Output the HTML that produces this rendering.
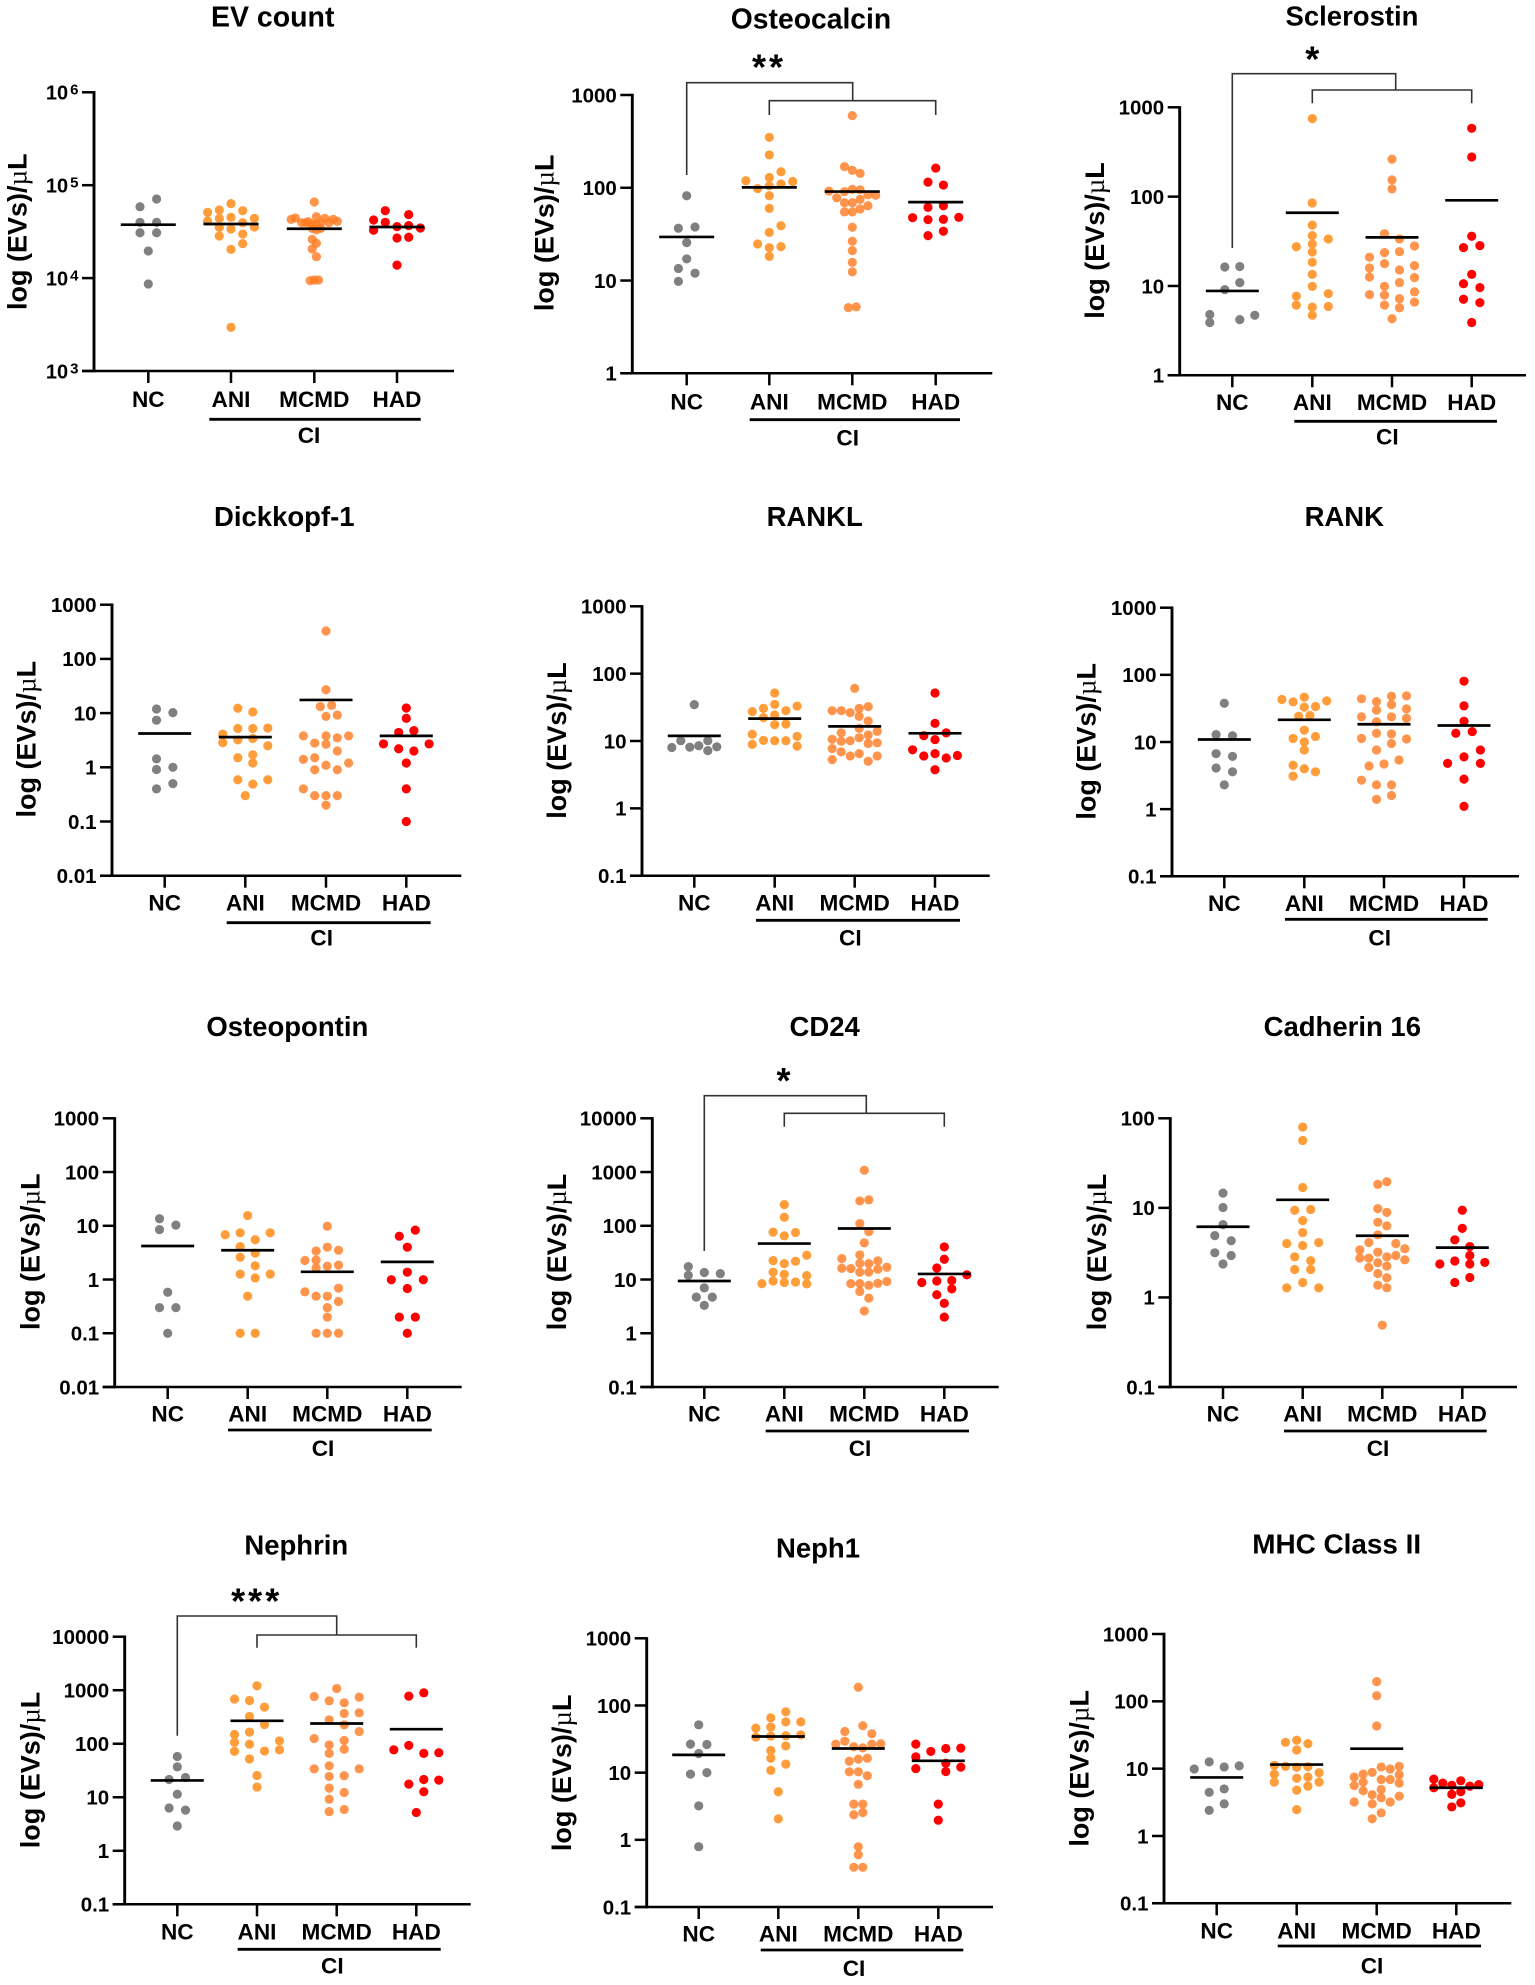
<!DOCTYPE html>
<html lang="en">
<head>
<meta charset="utf-8">
<title>EV marker panels</title>
<style>
html,body{margin:0;padding:0;background:#fff}
svg{display:block}
text{font-family:"Liberation Sans",Arial,sans-serif;font-weight:700;fill:#000}
</style>
</head>
<body>
<svg id="figure" width="1535" height="1985" viewBox="0 0 1535 1985" xmlns="http://www.w3.org/2000/svg">
<rect x="0" y="0" width="1535" height="1985" fill="#fff"></rect>
</svg>
<script>
// ---------- shared categories and tick arrays ----------
const categories = ['NC', 'ANI', 'MCMD', 'HAD'];
const groupName = 'CI';
const ticksEv = [1000, 10000, 100000, 1000000];
const ticksEvExponents = ['3', '4', '5', '6'];
const ticksThreeDec = [1, 10, 100, 1000];
const labelsThreeDec = ['1', '10', '100', '1000'];
const ticksFiveLow = [0.01, 0.1, 1, 10, 100, 1000];
const labelsFiveLow = ['0.01', '0.1', '1', '10', '100', '1000'];
const ticksFourLow = [0.1, 1, 10, 100, 1000];
const labelsFourLow = ['0.1', '1', '10', '100', '1000'];
const ticksFiveHigh = [0.1, 1, 10, 100, 1000, 10000];
const labelsFiveHigh = ['0.1', '1', '10', '100', '1000', '10000'];
const ticksCadherin = [0.1, 1, 10, 100];
const labelsCadherin = ['0.1', '1', '10', '100'];

// ---------- series values (NC, ANI, MCMD, HAD), swarm slots and means ----------
const evCountValues = [
 [71000,58700,39800,39800,30800,30800,19600,8640],
 [63300,54100,53200,51000,44000,45100,44000,41200,39500,35200,35500,33800,29800,28400,23500,20400,2950],
 [65900,45800,42900,44400,44000,42900,40800,39500,40500,39500,39500,38200,39500,38200,34300,34300,33000,26100,23700,20600,17000,9390,9540,9540],
 [53200,48200,42200,39800,35800,36700,32700,34600,27000,27500,13800]];
const evCountSlots = [
 [1,-1,-1,1,-1,1,0,0],
 [0,-1,1,-2,2,0,-1,-2,1,-1,2,0,1,-1,1,0,0],
 [0,.5,-5.5,-4.5,2.5,4.5,5.5,-3,-1.5,1.5,3.5,.5,-2,-.5,-.5,1.5,.5,-.5,.5,-.5,.5,-1,0,1],
 [-1,1,-2,-1,0,1,-2,2,0,1,0]];
const evCountMeans = [37600,38200,34000,35500];

const osteocalcinValues = [
 [82,36.6,37.8,25.6,17.1,13.5,12,9.8],
 [350,226,149,129,119,117,110,105,98,82,60,39,33,24.8,23.2,22.6,18.2],
 [600,169,154,143,96,95,92,91,78,84,83,75,69,69,64,59,55,55,37.5,26.5,21,15.7,12.4,5.1,5.2],
 [163,115,107,61.5,64,47.6,45.3,45.7,48,34,30.5]];
const osteocalcinSlots = [
 [0,-1,1,0,0,-1,1,-1],
 [0,0,1,0,-2,2,1,0,-1,0,0,1,0,-1,1,0,0],
 [0,-1,0,1,0,1,-3,-1,-2,2,3,1,-1,0,2,1,-1,0,0,0,0,0,0,-.5,.5],
 [0,-1,1,-1,1,-3,-1,1,3,1,-1]];
const osteocalcinMeans = [29.5,101,91,70];

const sclerostinValues = [
 [16.3,16.5,10.9,9.1,4.8,4.7,4.2,3.9],
 [747,85,48,36.6,33.6,29.5,27.5,24,18.4,13.5,9.9,8.2,7.7,6.1,5.9,5.8,4.7],
 [262,154,122,38.5,33.6,28,23.6,24.2,21,17.8,16.9,15.9,15.1,12.6,12.4,10.9,9.9,8.6,8,7.9,7.2,6.6,6.1,5.7,4.3],
 [582,278,36,26.9,28.3,13.5,10.6,9.6,7.1,6.5,3.9]];
const sclerostinSlots = [
 [-1,1,1,-1,-3,3,1,-3],
 [0,0,0,0,1,0,-1,0,0,0,0,1,-1,-1,1,0,0],
 [0,0,0,-1,1,3,-1,1,-3,-1,3,-3,1,-3,3,1,-1,3,-3,-1,1,3,-1,1,0],
 [0,0,0,-1,1,0,-1,1,-1,1,0]];
const sclerostinMeans = [8.8,66,35,91];

const dickkopfValues = [
 [11.9,10.2,7.4,1.43,1,.91,.5,.4],
 [12.3,10.5,5.2,5.2,5.3,4.1,3.4,3.2,2.85,2.5,1.7,1.5,1.2,.59,.59,.49,.3],
 [327,27,13.2,13.9,8.7,9.2,3.8,3.8,3.8,3.5,2.8,2.66,2,1.5,1.4,1.2,1.09,.9,.9,.4,.3,.3,.3,.2],
 [12.4,8,4.4,4.75,2.7,2.7,2.2,2,1.2,.4,.1]];
const dickkopfSlots = [
 [-1,1,-1,-1,1,-1,1,-1],
 [-1,1,-1,1,3,-3,1,-1,-3,3,1,-1,1,-1,3,1,0],
 [0,0,-.5,.5,0,1,-2,0,2,1,-1,0,1,-1,-2,2,0,-1,1,-2,-1,0,1,0],
 [0,0,-1,1,-3,3,-1,1,0,0,0]];
const dickkopfMeans = [4.2,3.6,17.5,3.8];

const ranklValues = [
 [34.7,10.1,10.1,8,8.1,8.5,7.2,8.2],
 [51.6,35,33,30.5,27.3,28.2,24.3,22.2,17.5,17.9,12.6,11.7,10.2,10.1,10.1,8.9,8.4],
 [60.5,32.4,30.5,28.2,28.2,26.4,23.2,19.8,15.4,13.2,13.9,12.3,11.2,10.6,9.9,10.1,9.4,9.2,7.7,6.9,6.5,6,6,5.3,5],
 [51.6,18.3,12,13.2,10.5,7.4,6,6.5,6.1,5.6,3.75]];
const ranklSlots = [
 [0,-1.5,1.5,-2.5,-.5,.5,1.5,2.5],
 [0,0,2,-1,-2,1,0,-1,0,1,-2,2,-1,0,1,-2,2],
 [0,1.5,.5,-2.5,-1.5,-.5,.5,1.5,.5,-1.5,2.5,1.5,.5,-2.5,-1.5,-.5,2.5,1.5,-2.5,-1.5,.5,-.5,2.5,-2.5,1.5],
 [0,0,-1,1,0,-2,-1,0,2,1,0]];
const ranklMeans = [11.9,21.5,16.5,13];

const rankValues = [
 [37.8,12.9,12.4,6.7,6.1,4.1,3.6,2.3],
 [46.5,43,41,39.6,33.8,33,24.2,24.8,15,11.3,12.1,10,7.6,4.5,4,3.6,3.1],
 [48,48.7,44,40,36,29.8,31.2,23.7,23.7,22.6,20,13.5,13.2,11.3,11.1,9.5,7.6,5.4,4.7,4.4,2.7,2.3,2.3,1.6,1.4],
 [80.5,34.5,20.4,13.5,14.3,7.6,6,4.8,4.8,2.8,1.1]];
const rankSlots = [
 [0,-1,1,-1,1,-1,1,0],
 [0,-2,2,-1,1,0,-.5,.5,0,-1,1,0,0,-1,0,1,-1],
 [1,3,-3,-1,1,-1,3,-3,1,3,-1,-1,1,-3,3,1,-1,2,0,-2,-3,-1,1,1,-1],
 [0,0,0,-1,1,2,0,-2,2,0,0]];
const rankMeans = [10.9,21.4,18.4,17.6];

const osteopontinValues = [
 [13.5,10.3,8.5,.58,.3,.3,.1],
 [15.5,7.4,7.4,6.8,5.5,4.1,3.1,2.6,1.8,1.26,1.26,1.07,.49,.1,.1],
 [9.8,4,3.4,3.5,2.26,2.3,1.85,1.77,1.65,.69,.59,.49,.49,.39,.3,.2,.1,.1,.1],
 [8.3,6.4,4,1.37,.99,.99,.68,.2,.2,.1]];
const osteopontinSlots = [
 [-1,1,-1,0,-1,1,0],
 [0,-1,3,-3,1,-1,1,-1,1,-1,3,1,0,-1,1],
 [0,0,-1,1,-2,-1,1,0,-1,1,-2,-1,0,1,0,0,-1,0,1],
 [1,-1,0,0,-2,2,0,-1,1,0]];
const osteopontinMeans = [4.2,3.5,1.39,2.13];

const cd24Values = [
 [17.4,12,13.5,12.9,7,4.7,4.7,3.3],
 [248,144,76,75,65,22.5,21.9,19.8,28.3,13.7,12.5,11.8,9.4,9,8.8,8.4,8.3],
 [1080,303,290,110,78,48,28.7,24.5,22.2,20,19.8,16.9,16.2,16,15.5,13.7,13.7,8.4,8.4,8.5,9.2,7.8,6,4.5,2.6],
 [40.4,23.8,16.4,12.2,8.8,9.4,9.6,6.7,5.2,3.6,2]];
const cd24Slots = [
 [-2,-2,0,2,0,-1,1,0],
 [0,0,-1,1,0,-1,1,0,2,-1,0,2,-1,1,0,-2,2],
 [0,.5,-.5,-.5,.5,0,-.5,-2.5,1.5,-.5,.5,2.5,-2.5,-1.5,1.5,-.5,.5,-1.5,-.5,1.5,2.5,.5,-.5,.5,0],
 [0,0,-1,3,-3,-1,1,1,-1,0,0]];
const cd24Means = [9.4,46.7,89,12.7];

const cadherinValues = [
 [14.6,10.1,6.5,4.9,4.3,3.15,2.94,2.36],
 [79.8,56.6,16.9,9.4,9.6,7.2,5.3,4,4.1,3.8,2.84,2.57,2.05,2.05,1.47,1.28,1.28],
 [19.6,18.3,9.8,8.9,6.9,6.3,5,4.1,4,3.5,3.4,3.2,2.94,2.84,2.75,2.75,2.63,2.44,2.24,2.16,1.85,1.66,1.37,1.28,.49],
 [9.4,5.9,4.4,3.7,2.94,2.55,2.46,2.36,2.36,1.67,1.47]];
const cadherinSlots = [
 [0,0,0,-1,1,-1,1,0],
 [0,0,0,-1,1,0,0,-2,2,0,-1,1,-1,1,0,-2,2],
 [.5,-.5,-.5,.5,-.5,.5,-.5,-1.5,1.5,2.5,-2.5,-.5,1.5,.5,-2.5,-1.5,2.5,-.5,.5,-1.5,-.5,.5,-.5,.5,0],
 [0,0,-1,1,1,-1,3,-3,1,1,-1]];
const cadherinMeans = [6.15,12.3,4.88,3.6];

const nephrinValues = [
 [57.8,37,21.5,23.4,11.4,6.3,5.75,2.9],
 [1210,681,643,483,323,229,165,149,106,113,98,72,73,77,52,25.5,15.5],
 [1077,764,742,634,582,367,378,280,226,169,125,115,95,79,66,38.7,34,34,24.5,25.2,14.8,12.3,9.2,5.9,5.4],
 [894,775,77,93,66,68,21.5,20.9,17.6,12.7,5.2]];
const nephrinSlots = [
 [0,0,-1,1,0,-1,1,0],
 [0,-3,-1,1,-1,1,-1,-3,-3,3,-1,-3,1,3,-1,0,0],
 [0,-3,3,-1,1,1,3,-1,1,3,-3,1,-1,1,-1,-1,-3,3,-1,1,-1,1,-1,1,-1],
 [1,-1,-3,-1,1,3,1,3,-1,1,0]];
const nephrinMeans = [20.6,268,239,187];

const neph1Values = [
 [51.5,26.6,26.3,19.3,9.5,10,3.2,.79],
 [80.5,65.5,57,57,46,47.6,33.8,35,35.4,36.6,25,21.4,16.4,13.4,10.8,5.2,2.05],
 [187,50,41,38,26.6,29.4,26.6,26.9,24.3,23.4,14.8,15.9,16.4,10.3,10.3,9,6.7,3.4,3.4,2.36,2.55,.79,.6,.39,.39],
 [26.6,20.7,22.9,23.2,17.2,13.8,11.5,12.1,10.4,3.4,1.96]];
const neph1Slots = [
 [0,-1,1,0,-1,1,0,0],
 [1,-1,1,3,-3,-1,-3,-1,1,3,1,-1,-1,1,-1,0,0],
 [0,.5,-1.5,1.5,-2.5,-1.5,1.5,2.5,-.5,.5,-1,0,1,-1,0,1,0,-.5,.5,-.5,.5,0,0,-.5,.5],
 [-3,-1,1,3,-3,1,-3,3,1,0,0]];
const neph1Means = [18.4,34.5,22.9,15];

const mhcValues = [
 [12.6,11,9.9,10.6,5,4.45,3,2.4],
 [26.4,24.6,23.5,18.9,11.2,10.8,10.7,10.5,8.3,8.7,7.5,7.2,6.3,6.3,5.5,4.8,2.46],
 [196,121,43,10.6,8.8,9.9,10.8,8.3,7.5,8.1,6.9,6.9,6.3,6.1,5.6,4.9,4.7,4.1,3.7,3.9,3.2,3.2,3,2.2,1.8],
 [7,6.1,6.6,5.8,5.65,5.5,5.2,4.55,4.15,3.1,2.7]];
const mhcSlots = [
 [-1,3,-3,1,1,-1,1,-1],
 [0,-1,1,0,-2,-1,1,0,-2,2,1,0,-2,2,1,0,0],
 [0,0,0,.5,-.5,1.5,2.5,-1.5,-2.5,2.5,.5,1.5,-1.5,2.5,-2.5,.5,-1.5,-.5,.5,2.5,-2.5,1.5,-.5,.5,-.5],
 [-2.5,-1.5,.5,2.5,-.5,1.5,-2.5,.5,-.5,.5,-.5]];
const mhcMeans = [7.4,11.5,19.8,5.2];

// ---------- styling ----------
const groupColors = ['#808080', '#ff9d3a', '#ff7a1f', '#ff0000'];
const groupOpacity = [1, 1, 0.8, 1];
const dotRadius = 4.6;

// ---------- panels: layout plus references to the arrays above ----------
const panels = [
 {slug:'ev-count',title:'EV count',titleSize:28.5,titleX:272.7,titleY:26.7,spine:94,top:92.3,bottom:371,right:454,centers:[148.3,231,314.3,397],labelY:407,ciY:419.3,ciX1:209.3,ciX2:420.7,ciCx:309,ciTextY:443,yTitleX:26.7,yTitleY:231.7,ticks:ticksEv,exponents:ticksEvExponents,steps:[8.3,11.7,4.2,11.7],meanW:55,values:evCountValues,slots:evCountSlots,means:evCountMeans},
 {slug:'osteocalcin',title:'Osteocalcin',titleSize:28.3,titleX:811,titleY:28.3,spine:632.3,top:95,bottom:373.3,right:992.3,centers:[686.7,769.3,852.3,935.7],labelY:409.3,ciY:419.7,ciX1:749.7,ciX2:960,ciCx:847.7,ciTextY:445.3,yTitleX:553.3,yTitleY:232.8,ticks:ticksThreeDec,labels:labelsThreeDec,steps:[8.3,11.7,7.8,7.7],meanW:55,values:osteocalcinValues,slots:osteocalcinSlots,means:osteocalcinMeans,
  bracket:{outerY:82.7,outerDrop:175,joinX:852.7,innerY:100.7,innerDrop:115,stars:'**',starsX:769,starsY:61.7}},
 {slug:'sclerostin',title:'Sclerostin',titleX:1352,titleY:25.3,spine:1179.7,top:107.3,bottom:375.3,right:1526,centers:[1232.3,1312.3,1392,1471.7],labelY:410,ciY:421.3,ciX1:1294.3,ciX2:1497,ciCx:1387.3,ciTextY:444.7,yTitleX:1104,yTitleY:240.5,ticks:ticksThreeDec,labels:labelsThreeDec,steps:[7.5,16,7.5,8.2],meanW:53,values:sclerostinValues,slots:sclerostinSlots,means:sclerostinMeans,
  bracket:{outerY:73.7,outerDrop:248,joinX:1395.7,innerY:90,innerDrop:103.3,stars:'*',starsX:1313.7,starsY:53.3}},
 {slug:'dickkopf-1',title:'Dickkopf-1',titleX:284.3,titleY:526,spine:112,top:604.7,bottom:875.7,right:461.3,centers:[164.7,245.3,326,406.3],labelY:910.7,ciY:922.7,ciX1:226.7,ciX2:430.7,ciCx:321.7,ciTextY:945.3,yTitleX:35.7,yTitleY:739.2,ticks:ticksFiveLow,labels:labelsFiveLow,steps:[8.2,7.5,11.3,7.6],meanW:53,values:dickkopfValues,slots:dickkopfSlots,means:dickkopfMeans},
 {slug:'rankl',title:'RANKL',titleX:814.7,titleY:526,spine:642,top:606.3,bottom:875.7,right:989.7,centers:[694.3,774.7,854.7,935],labelY:910.7,ciY:920.3,ciX1:756,ciX2:960,ciCx:850.3,ciTextY:945.3,yTitleX:566,yTitleY:740.5,ticks:ticksFourLow,labels:labelsFourLow,steps:[9,11.2,9,11.2],meanW:53,values:ranklValues,slots:ranklSlots,means:ranklMeans},
 {slug:'rank',title:'RANK',titleX:1344.3,titleY:526,spine:1172,top:607.7,bottom:876.3,right:1519,centers:[1224.3,1304.3,1384,1464],labelY:911,ciY:919.3,ciX1:1285,ciX2:1487.7,ciCx:1379.7,ciTextY:945.3,yTitleX:1095.7,yTitleY:741.3,ticks:ticksFourLow,labels:labelsFourLow,steps:[8.2,11.2,7.5,8.2],meanW:53,values:rankValues,slots:rankSlots,means:rankMeans},
 {slug:'osteopontin',title:'Osteopontin',titleX:287.3,titleY:1036,spine:114.7,top:1118.3,bottom:1387,right:461.7,centers:[167.7,247.7,327.3,407.3],labelY:1421.3,ciY:1430,ciX1:228,ciX2:431.7,ciCx:323,ciTextY:1456,yTitleX:39.3,yTitleY:1251.7,ticks:ticksFiveLow,labels:labelsFiveLow,steps:[8.2,7.5,11.2,8],meanW:53,values:osteopontinValues,slots:osteopontinSlots,means:osteopontinMeans},
 {slug:'cd24',title:'CD24',titleX:824.7,titleY:1036,spine:652.3,top:1118.3,bottom:1387,right:998.7,centers:[704.3,784.3,864.3,944.3],labelY:1421.3,ciY:1431,ciX1:765.7,ciX2:969,ciCx:860,ciTextY:1456,yTitleX:566,yTitleY:1252,ticks:ticksFiveHigh,labels:labelsFiveHigh,steps:[8,11.2,9,7.5],meanW:53,values:cd24Values,slots:cd24Slots,means:cd24Means,
  bracket:{outerY:1095.7,outerDrop:1251,joinX:866.3,innerY:1113.3,innerDrop:1126.7,stars:'*',starsX:785,starsY:1075}},
 {slug:'cadherin-16',title:'Cadherin 16',titleX:1342.3,titleY:1036,spine:1170.3,top:1118.3,bottom:1387,right:1517,centers:[1223,1302.7,1382.3,1462.3],labelY:1421.3,ciY:1431,ciX1:1284,ciX2:1486.7,ciCx:1378,ciTextY:1456,yTitleX:1106,yTitleY:1252,ticks:ticksCadherin,labels:labelsCadherin,steps:[8.2,8,9,7.5],meanW:53,values:cadherinValues,slots:cadherinSlots,means:cadherinMeans},
 {slug:'nephrin',title:'Nephrin',titleX:296.3,titleY:1554.3,spine:124.7,top:1636.7,bottom:1904.3,right:470.7,centers:[177.3,257,336.7,416.3],labelY:1939.3,ciY:1949.3,ciX1:237.7,ciX2:440.7,ciCx:332.3,ciTextY:1973.3,yTitleX:39.3,yTitleY:1770,ticks:ticksFiveHigh,labels:labelsFiveHigh,steps:[8.2,7.5,7.5,7.5],meanW:53,values:nephrinValues,slots:nephrinSlots,means:nephrinMeans,
  bracket:{outerY:1616,outerDrop:1735.7,joinX:336.7,innerY:1635,innerDrop:1647.7,stars:'***',starsX:256.7,starsY:1595.3}},
 {slug:'neph1',title:'Neph1',titleX:818,titleY:1557.3,spine:646.7,top:1638.3,bottom:1907,right:993,centers:[698.7,778.3,858.3,938.3],labelY:1941.7,ciY:1950,ciX1:760.7,ciX2:963.3,ciCx:854,ciTextY:1976,yTitleX:571,yTitleY:1772.8,ticks:ticksFourLow,labels:labelsFourLow,steps:[8.2,7.5,9,7.5],meanW:53,values:neph1Values,slots:neph1Slots,means:neph1Means},
 {slug:'mhc-class-ii',title:'MHC Class II',titleSize:27.9,titleX:1336.7,titleY:1553.3,spine:1164,top:1634,bottom:1903.3,right:1511.3,centers:[1216.7,1296.7,1376.7,1456.3],labelY:1938.3,ciY:1946,ciX1:1277.7,ciX2:1481,ciCx:1372,ciTextY:1973.3,yTitleX:1088.3,yTitleY:1768.3,ticks:ticksFourLow,labels:labelsFourLow,steps:[7.5,11.2,9,9],meanW:53,values:mhcValues,slots:mhcSlots,means:mhcMeans}
];

// ---------- drawing ----------
const NS = 'http://www.w3.org/2000/svg';
const figure = document.getElementById('figure');

function make(parent, tag, attrs, text) {
  const node = document.createElementNS(NS, tag);
  for (const key in attrs) node.setAttribute(key, attrs[key]);
  if (text !== undefined) node.textContent = text;
  parent.appendChild(node);
  return node;
}

function logScale(domainMin, domainMax, pxBottom, pxTop) {
  const lo = Math.log10(domainMin);
  const hi = Math.log10(domainMax);
  return function (v) {
    return pxBottom + (Math.log10(v) - lo) / (hi - lo) * (pxTop - pxBottom);
  };
}

function drawLine(parent, x1, y1, x2, y2, width, color) {
  return make(parent, 'line', {x1: x1, y1: y1, x2: x2, y2: y2, stroke: color, 'stroke-width': width});
}

for (const p of panels) {
  const panel = make(figure, 'g', {});
  
  

  const y = logScale(p.ticks[0], p.ticks[p.ticks.length - 1], p.bottom, p.top);

  const title = make(panel, 'text', {x: p.titleX, y: p.titleY, 'text-anchor': 'middle', 'font-size': p.titleSize || 27.5}, p.title);
  
  

  const yTitle = make(panel, 'text', {transform: 'translate(' + p.yTitleX + ',' + p.yTitleY + ') rotate(-90)', 'text-anchor': 'middle', 'font-size': 27}, 'log (EVs)/');
  
  
  const mu = make(yTitle, 'tspan', {style: 'font-family:"Liberation Serif",serif;font-weight:400'}, 'µ');
  
  
  const unit = make(yTitle, 'tspan', {}, 'L');
  
  

  // data points
  p.values.forEach(function (series, g) {
    series.forEach(function (v, i) {
      const dot = make(panel, 'circle', {
        cx: p.centers[g] + p.slots[g][i] * p.steps[g],
        cy: y(v),
        r: dotRadius,
        fill: groupColors[g],
        'fill-opacity': groupOpacity[g]
      });
      
      
    });
  });

  // mean lines
  p.means.forEach(function (m, g) {
    const meanLine = drawLine(panel, p.centers[g] - p.meanW / 2, y(m), p.centers[g] + p.meanW / 2, y(m), 2.7, '#000');
    
    
  });

  // axes
  const yAxis = drawLine(panel, p.spine, p.top - 1.2, p.spine, p.bottom + 1.2, 2.9, '#000');
  
  
  const xAxis = drawLine(panel, p.spine - 12, p.bottom, p.right, p.bottom, 2.5, '#000');
  
  

  p.ticks.forEach(function (t, i) {
    const tick = drawLine(panel, p.spine - 12, y(t), p.spine, y(t), 2.5, '#000');
    
    
    const label = make(panel, 'text', {x: p.spine - 15.5, y: y(t) + 7.3, 'text-anchor': 'end', 'font-size': p.exponents ? 20 : 20.5}, p.exponents ? '10' : p.labels[i]);
    
    
    if (p.exponents) {
      const power = make(label, 'tspan', {dx: 2, dy: -5, 'font-size': 15}, p.exponents[i]);
      
      
    }
  });

  categories.forEach(function (c, g) {
    const tick = drawLine(panel, p.centers[g], p.bottom, p.centers[g], p.bottom + 12, 2.5, '#000');
    
    
    const label = make(panel, 'text', {x: p.centers[g], y: p.labelY, 'text-anchor': 'middle', 'font-size': 22.6}, c);
    
    
  });

  const ciLine = drawLine(panel, p.ciX1, p.ciY, p.ciX2, p.ciY, 2.8, '#000');
  
  
  const ciText = make(panel, 'text', {x: p.ciCx, y: p.ciTextY, 'text-anchor': 'middle', 'font-size': 22.6}, groupName);
  
  

  // significance bracket
  if (p.bracket) {
    const b = p.bracket;
    const outer = make(panel, 'path', {
      d: 'M' + p.centers[0] + ' ' + b.outerDrop + 'V' + b.outerY + 'H' + b.joinX + 'V' + b.innerY,
      fill: 'none', stroke: '#333', 'stroke-width': 1.6
    });
    
    
    const inner = make(panel, 'path', {
      d: 'M' + p.centers[1] + ' ' + b.innerDrop + 'V' + b.innerY + 'H' + p.centers[3] + 'V' + b.innerDrop,
      fill: 'none', stroke: '#333', 'stroke-width': 1.6
    });
    
    
    const stars = make(panel, 'text', {x: b.starsX, y: b.starsY + 18, 'text-anchor': 'middle', 'font-size': 36, 'letter-spacing': 3}, b.stars);
    
    
  }
}
</script>
</body>
</html>
